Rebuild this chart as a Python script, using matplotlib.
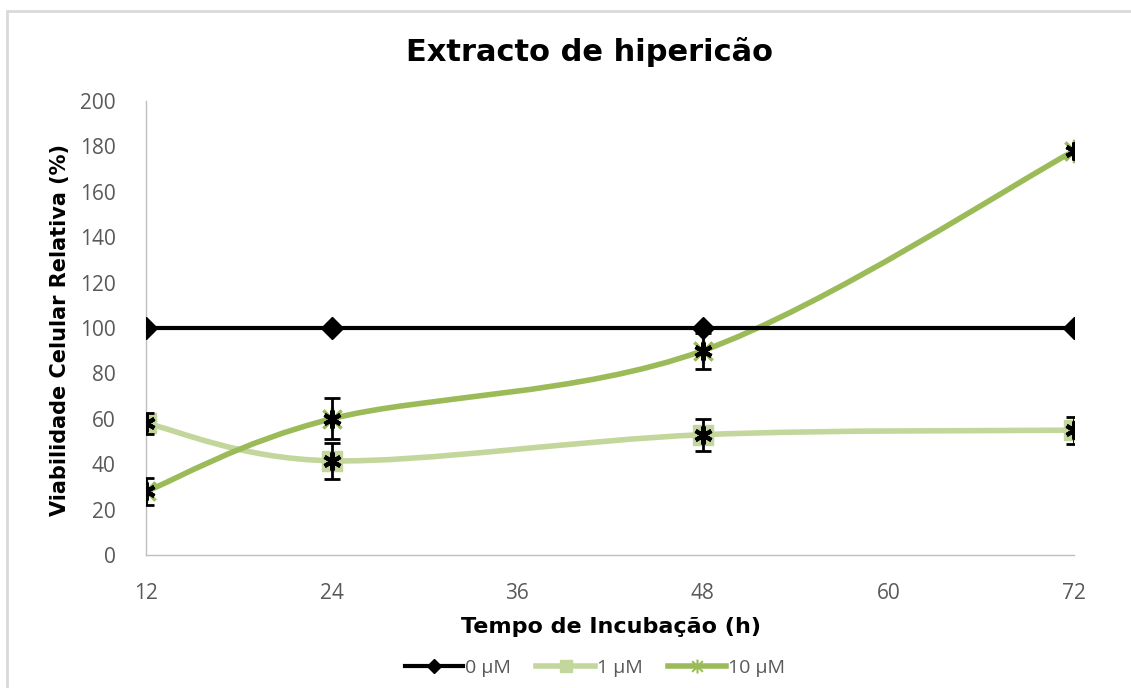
import matplotlib
matplotlib.use("Agg")
import matplotlib.pyplot as plt
import numpy as np
from matplotlib.path import Path
from matplotlib.patches import PathPatch, Rectangle
from matplotlib.lines import Line2D

hours = [12, 24, 48, 72]
v0 = [100, 100, 100, 100]
v1 = [58, 41.5, 53, 55]
v10 = [28, 60, 90, 178]
err1 = [4.7, 8, 7, 6]
err10 = [6, 9, 8, 1.5]

c_black = "#000000"
c_light = "#c3d69b"
c_green = "#9bbb59"

# star marker like excel: x plus vertical bar
star = Path([(-1, -1), (1, 1), (-1, 1), (1, -1), (0, -1.3), (0, 1.3)],
            [Path.MOVETO, Path.LINETO, Path.MOVETO, Path.LINETO, Path.MOVETO, Path.LINETO])


def smooth_path(x, y):
    # catmull-rom -> bezier, like excel smoothed lines
    pts = np.column_stack([x, y]).astype(float)
    n = len(pts)
    verts = [pts[0]]
    codes = [Path.MOVETO]
    for i in range(n - 1):
        p0 = pts[i - 1] if i > 0 else pts[i]
        p1, p2 = pts[i], pts[i + 1]
        p3 = pts[i + 2] if i + 2 < n else pts[i + 1]
        verts += [p1 + (p2 - p0) / 6, p2 - (p3 - p1) / 6, p2]
        codes += [Path.CURVE4] * 3
    return Path(verts, codes)


fig = plt.figure(figsize=(11.31, 6.88), dpi=100)
ax = fig.add_axes([146 / 1131, 1 - 555 / 688, (1074 - 146) / 1131, (555 - 101) / 688])

fig.patches.append(Rectangle((7 / 1131, -0.1), 1.2, 1 - 11 / 688 + 0.1, transform=fig.transFigure,
                             fill=False, edgecolor="#d9d9d9", linewidth=2, zorder=0))

ax.plot(hours, v0, color=c_black, lw=3, marker="D", ms=11, zorder=3)

for vals, col, lw in [(v1, c_light, 4), (v10, c_green, 4)]:
    ax.add_patch(PathPatch(smooth_path(hours, vals), fill=False, edgecolor=col, lw=lw,
                           capstyle="round", zorder=2))

ax.plot(hours, v1, ls="none", marker="s", ms=15, color=c_light, zorder=4)
ax.plot(hours, v10, ls="none", marker=star, ms=17, mew=2.5, color=c_green, zorder=4)

ax.errorbar(hours, v1, yerr=err1, fmt="none", ecolor="black", elinewidth=2, capsize=6, capthick=2, zorder=5)
ax.errorbar(hours, v10, yerr=err10, fmt="none", ecolor="black", elinewidth=2, capsize=6, capthick=2, zorder=5)

# significance asterisks
for vals in (v1, v10):
    ax.plot(hours, vals, ls="none", marker=(6, 2, 0), ms=13, mew=3, color="black", zorder=6)

ax.set_xlim(12, 72)
ax.set_ylim(0, 200)
ax.set_xticks([12, 24, 36, 48, 60, 72])
ax.set_yticks(range(0, 201, 20))
ax.tick_params(length=0, labelsize=15, labelcolor="#595959")
ax.tick_params(axis="x", pad=20)
ax.tick_params(axis="y", pad=22)
for lab in ax.get_xticklabels() + ax.get_yticklabels():
    lab.set_fontfamily("Open Sans")
for s in ("top", "right"):
    ax.spines[s].set_visible(False)
for s in ("left", "bottom"):
    ax.spines[s].set_color("#bfbfbf")
    ax.spines[s].set_linewidth(1)

fig.text(590 / 1131, 1 - 52 / 688, "Extracto de hipericão", ha="center", va="center",
         fontsize=22, fontweight="bold")
fig.text(611 / 1131, 1 - 627 / 688, "Tempo de Incubação (h)", ha="center", va="center",
         fontsize=16, fontweight="bold")
fig.text(60 / 1131, 1 - 330 / 688, "Viabilidade Celular Relativa (%)", ha="center", va="center",
         fontsize=15, fontweight="bold", rotation=90)

handles = [Line2D([], [], color=c_black, lw=3, marker="D", ms=7),
           Line2D([], [], color=c_light, lw=4, marker="s", ms=9),
           Line2D([], [], color=c_green, lw=4, marker=star, ms=10, mew=1.5)]
leg = fig.legend(handles, ["0 µM", "1 µM", "10 µM"], loc="center", bbox_to_anchor=(595 / 1131, 1 - 668 / 688),
                 ncol=3, frameon=False, handlelength=3, handletextpad=0.1, columnspacing=1.3,
                 prop={"family": "Open Sans", "size": 14})
for t in leg.get_texts():
    t.set_color("#595959")

fig.savefig("out.png", dpi=100)
